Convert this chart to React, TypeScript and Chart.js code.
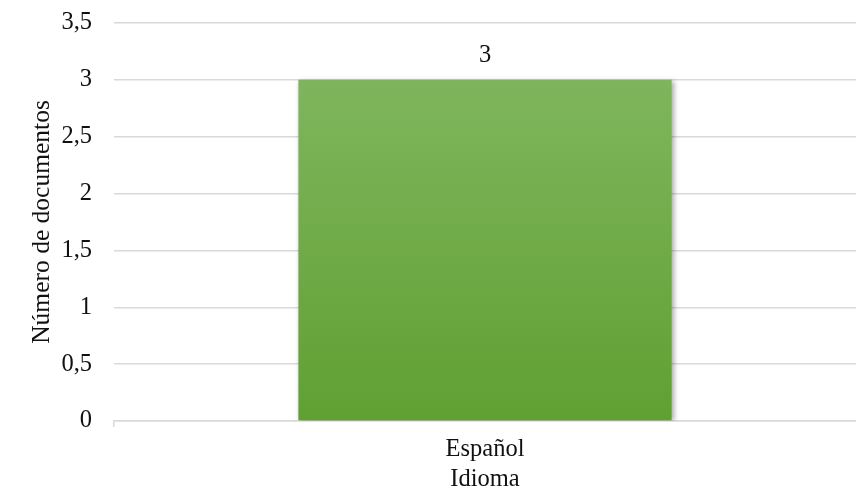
import React, { useEffect, useRef } from "react";
import { Chart, registerables } from "chart.js";

Chart.register(...registerables);

const categories = ["Español"];
const values = [3];
const yTicks = [0, 0.5, 1, 1.5, 2, 2.5, 3, 3.5];
const xTitle = "Idioma";
const yTitle = "Número de documentos";

const FONT = "'Liberation Serif', 'Times New Roman', serif";
const FS = 24.5;

const shadowPlugin = {
  id: "barShadow",
  beforeDatasetsDraw(chart: any) {
    const ctx = chart.ctx;
    ctx.save();
    ctx.shadowColor = "rgba(0,0,0,0.35)";
    ctx.shadowBlur = 5;
    ctx.shadowOffsetX = 2;
    ctx.shadowOffsetY = 1;
  },
  afterDatasetsDraw(chart: any) {
    chart.ctx.restore();
  },
};

const labelPlugin = {
  id: "valueLabels",
  afterDraw(chart: any) {
    const ctx = chart.ctx;
    const meta = chart.getDatasetMeta(0);
    ctx.save();
    ctx.font = `${FS}px ${FONT}`;
    ctx.fillStyle = "#111";
    ctx.textAlign = "center";
    ctx.textBaseline = "middle";
    meta.data.forEach((el: any, i: number) => {
      const v = chart.data.datasets[0].data[i];
      ctx.fillText(String(v).replace(".", ","), el.x, el.y - 24);
    });
    ctx.restore();
  },
};

export default function App() {
  const ref = useRef<HTMLCanvasElement>(null);
  useEffect(() => {
    if (!ref.current) return;
    const chart = new Chart(ref.current, {
      type: "bar",
      data: {
        labels: categories,
        datasets: [
          {
            data: values,
            backgroundColor: (c: any) => {
              const area = c.chart.chartArea;
              if (!area) return "#70ad47";
              const g = c.chart.ctx.createLinearGradient(0, area.top, 0, area.bottom);
              g.addColorStop(0, "#84b964");
              g.addColorStop(1, "#60a032");
              return g;
            },
            borderWidth: 0,
            barPercentage: 0.503,
            categoryPercentage: 1,
          },
        ],
      },
      plugins: [shadowPlugin, labelPlugin],
      options: {
        animation: false,
        responsive: false,
        layout: { padding: { top: 23, right: 0, left: 0, bottom: 0 } },
        plugins: { legend: { display: false }, tooltip: { enabled: false } },
        scales: {
          x: {
            offset: true,
            grid: {
              display: true,
              drawOnChartArea: false,
              drawTicks: true,
              tickLength: 6,
              color: (c: any) => (c.index === 0 ? "#d9d9d9" : "rgba(0,0,0,0)"),
              lineWidth: 1.5,
            },
            border: { display: true, color: "#d9d9d9", width: 1.5 },
            ticks: { color: "#111", font: { family: FONT, size: FS }, padding: 8 },
            title: {
              display: true,
              text: xTitle,
              color: "#111",
              font: { family: FONT, size: FS, lineHeight: 1 },
              padding: { top: 0, bottom: 0 },
            },
            afterFit: (s: any) => {
              s.height = 71;
              s.paddingLeft = 0;
              s.paddingRight = 0;
            },
          },
          y: {
            min: 0,
            max: 3.5,
            afterBuildTicks: (s: any) => {
              s.ticks = yTicks.map((v) => ({ value: v }));
            },
            grid: { color: "#d9d9d9", lineWidth: 1.5, drawTicks: false },
            border: { display: false },
            ticks: {
              color: "#111",
              font: { family: FONT, size: FS },
              padding: 22,
              callback: (v: any) => String(v).replace(".", ","),
            },
            title: {
              display: true,
              text: yTitle,
              color: "#111",
              font: { family: FONT, size: 25.5 },
              padding: { top: 27, bottom: 0 },
            },
            afterFit: (s: any) => {
              s.width = 114;
              s.paddingTop = 0;
              s.paddingBottom = 0;
            },
          },
        },
      },
    });
    return () => chart.destroy();
  }, []);
  return (
    <div style={{ position: "fixed", left: 0, top: 0, width: 856, height: 492, background: "#fff" }}>
      <canvas ref={ref} width={856} height={492} style={{ width: 856, height: 492 }} />
    </div>
  );
}
